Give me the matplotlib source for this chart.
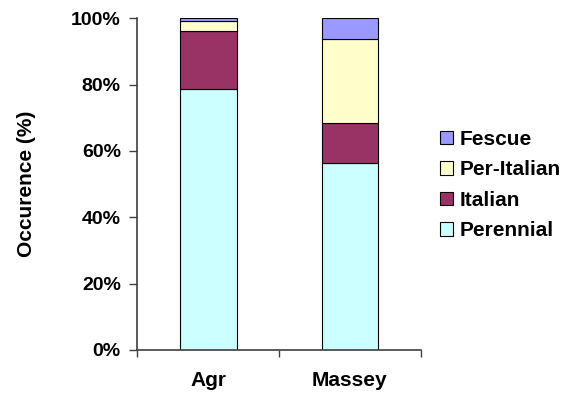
import matplotlib
matplotlib.use("Agg")
import matplotlib.pyplot as plt
import numpy as np

plt.rcParams['font.family'] = ['Liberation Sans', 'DejaVu Sans']
plt.rcParams['font.weight'] = 'bold'

sites = ["Agr", "Massey"]
species = ["Perennial", "Italian", "Per-Italian", "Fescue"]
perennial = [78.8, 56.5]
italian = [17.3, 11.9]
per_italian = [3.0, 25.4]
fescue = [0.9, 6.2]
colors = ["#CCFFFF", "#993366", "#FFFFCC", "#9999FF"]
y_ticks = [0, 20, 40, 60, 80, 100]
y_tick_labels = ["0%", "20%", "40%", "60%", "80%", "100%"]

fig = plt.figure(figsize=(5.61, 3.94), dpi=100)
ax = fig.add_axes([0.245, 0.1117, 0.505, 0.842])

x = np.arange(len(sites))
bottom = np.zeros(len(sites))
handles = []
for name, vals, col in zip(species, [perennial, italian, per_italian, fescue], colors):
    b = ax.bar(x, vals, width=0.4, bottom=bottom, color=col,
               edgecolor="black", linewidth=0.8, label=name)
    handles.append(b)
    bottom += np.array(vals)

ax.set_xlim(-0.5, 1.5)
ax.set_ylim(0, 100)

ax.set_yticks(y_ticks)
ax.set_yticklabels(y_tick_labels, fontsize=14, fontweight="bold")
ax.set_xticks([-0.5, 0.5, 1.5])
ax.set_xticklabels([])
ax.set_xticks(x, minor=True)
ax.set_xticklabels(sites, minor=True, fontsize=15, fontweight="bold")
ax.tick_params(axis="x", which="minor", length=0, pad=15)
ax.tick_params(axis="x", which="major", length=5, width=1, color="#404040", direction="out")
ax.tick_params(axis="y", length=6, width=1, color="#404040", direction="out", pad=6)

for s in ["top", "right"]:
    ax.spines[s].set_visible(False)
for s in ["left", "bottom"]:
    ax.spines[s].set_color("#404040")
    ax.spines[s].set_linewidth(1.2)

ax.set_ylabel("Occurence (%)", fontsize=15, fontweight="bold", labelpad=25)

fig.legend(handles[::-1], species[::-1], loc="center left",
           bbox_to_anchor=(440 / 561, 1 - 185 / 394), frameon=False,
           prop={"weight": "bold", "size": 15},
           handlelength=0.61, handleheight=0.61, handletextpad=0.32,
           labelspacing=0.55, borderpad=0, borderaxespad=0)

fig.savefig("out.png", dpi=100)
